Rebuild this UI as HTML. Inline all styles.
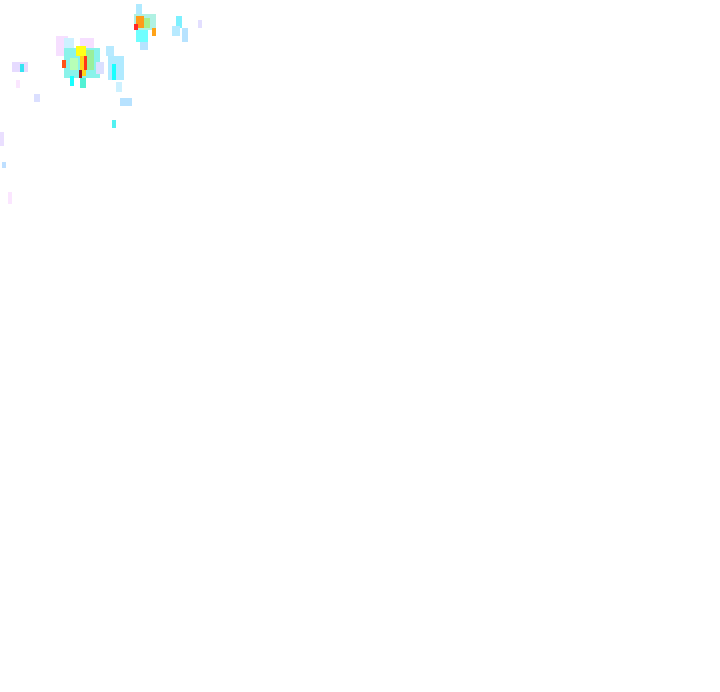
<!DOCTYPE html>
<html><head><style>html,body{margin:0;padding:0;background:#fff;width:720px;height:692px;overflow:hidden}</style></head>
<body>
<svg width="720" height="692" xmlns="http://www.w3.org/2000/svg">
<g opacity="0.9">
<rect x="56" y="36" width="12" height="20" fill="#f6dcff"/>
<rect x="64" y="38" width="10" height="12" fill="#c8f0ff"/>
<rect x="80" y="38" width="14" height="10" fill="#f6dcff"/>
<rect x="64" y="48" width="36" height="30" fill="#7ef2e8"/>
<rect x="76" y="46" width="10" height="10" fill="#ffff00"/>
<rect x="86" y="50" width="8" height="20" fill="#90ee90"/>
<rect x="70" y="58" width="8" height="12" fill="#b0ffb0"/>
<rect x="80" y="56" width="6" height="20" fill="#ffd000"/>
<rect x="84" y="56" width="3" height="14" fill="#ff2000"/>
<rect x="79" y="70" width="3" height="8" fill="#a00000"/>
<rect x="62" y="60" width="4" height="8" fill="#ff4000"/>
<rect x="96" y="62" width="8" height="12" fill="#d8dcff"/>
<rect x="70" y="76" width="4" height="10" fill="#00ffff"/>
<rect x="80" y="78" width="6" height="10" fill="#40f0d0"/>
<rect x="106" y="46" width="8" height="10" fill="#b0e8ff"/>
<rect x="108" y="56" width="16" height="24" fill="#a8e8ff"/>
<rect x="112" y="64" width="4" height="16" fill="#00ffff"/>
<rect x="116" y="82" width="6" height="10" fill="#c8f0ff"/>
<rect x="120" y="98" width="12" height="8" fill="#b0dfff"/>
<rect x="112" y="120" width="4" height="8" fill="#40f0f0"/>
<rect x="12" y="62" width="16" height="10" fill="#e4d8ff"/>
<rect x="20" y="64" width="4" height="8" fill="#20e0f0"/>
<rect x="34" y="94" width="6" height="8" fill="#d8dcff"/>
<rect x="16" y="80" width="4" height="8" fill="#fbe4ff"/>
<rect x="136" y="4" width="6" height="10" fill="#a8e8ff"/>
<rect x="134" y="14" width="22" height="16" fill="#a8f0e0"/>
<rect x="136" y="16" width="8" height="12" fill="#ff9000"/>
<rect x="134" y="24" width="4" height="6" fill="#ff1010"/>
<rect x="144" y="18" width="6" height="10" fill="#a0ee80"/>
<rect x="152" y="28" width="4" height="8" fill="#ff9a00"/>
<rect x="136" y="30" width="12" height="12" fill="#60ffff"/>
<rect x="140" y="42" width="8" height="8" fill="#b0e0ff"/>
<rect x="176" y="16" width="6" height="12" fill="#70f0ff"/>
<rect x="172" y="26" width="8" height="10" fill="#b0e8ff"/>
<rect x="182" y="28" width="6" height="14" fill="#b0e0ff"/>
<rect x="198" y="20" width="4" height="8" fill="#e0dcff"/>
<rect x="0" y="132" width="4" height="14" fill="#e8dcff"/>
<rect x="2" y="162" width="4" height="6" fill="#b8dcff"/>
<rect x="8" y="192" width="4" height="12" fill="#fbe4ff"/>
</g>
</svg>
</body></html>
